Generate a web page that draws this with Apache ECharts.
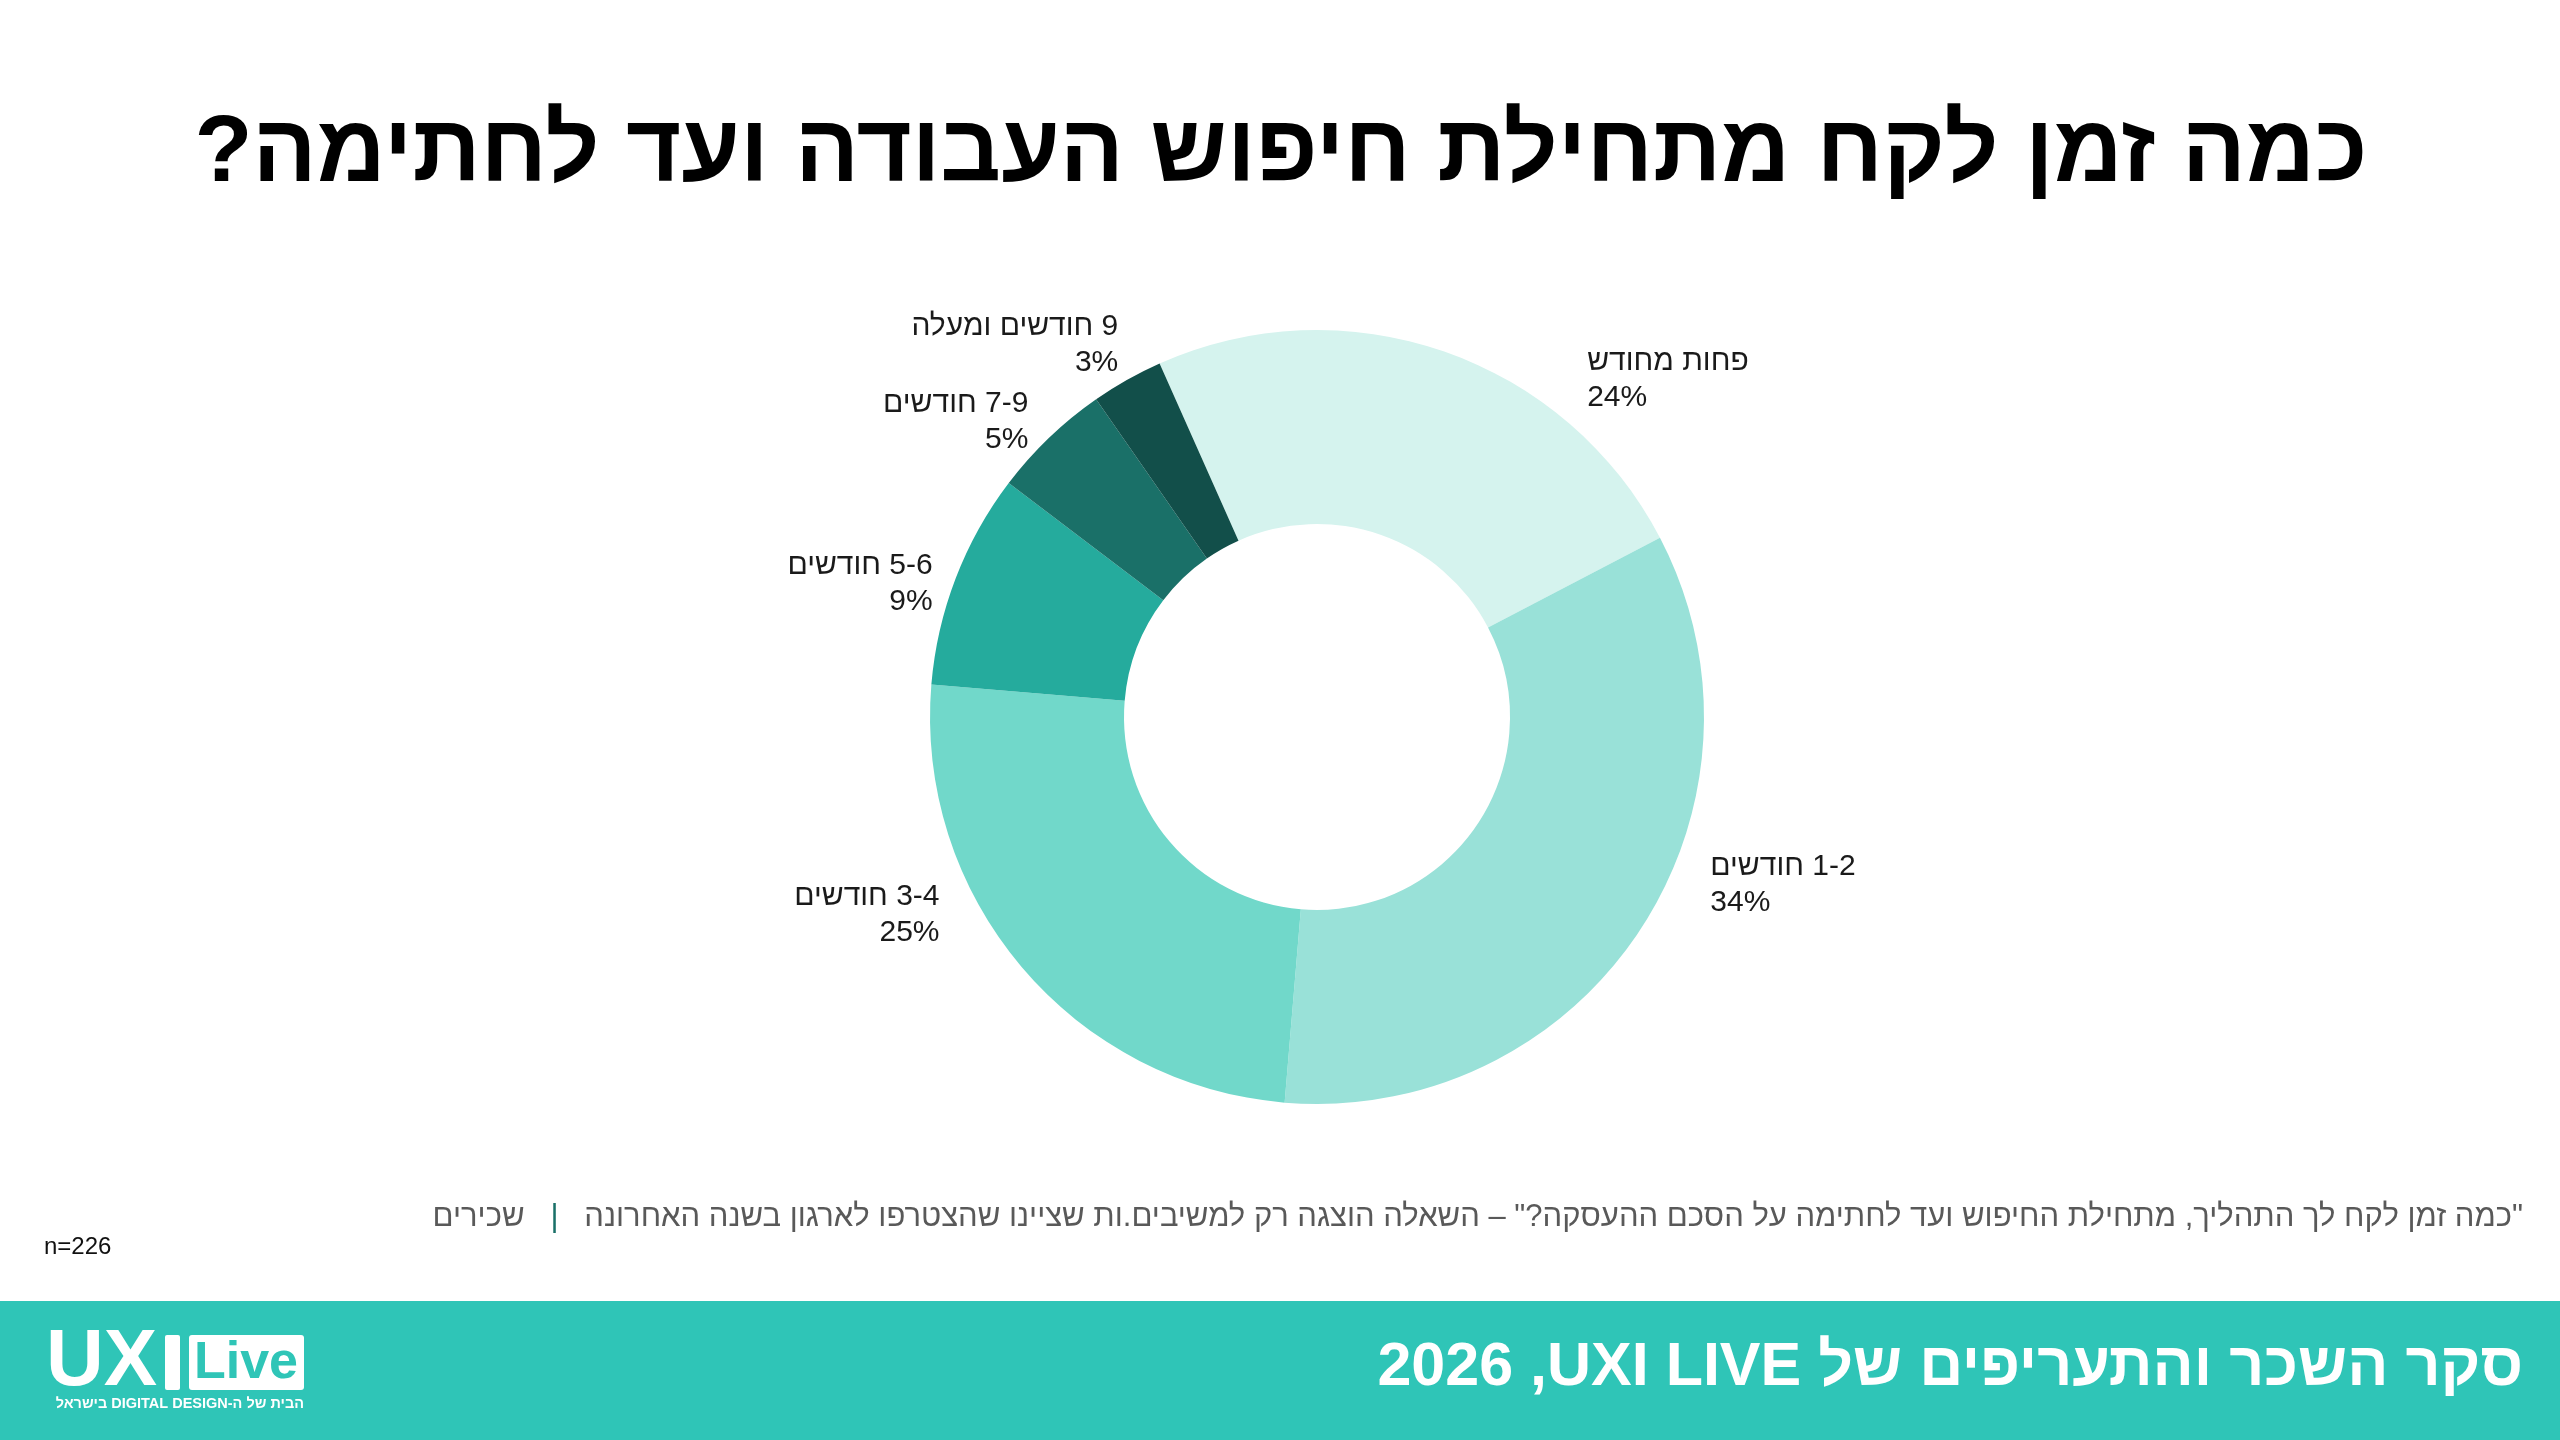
<!DOCTYPE html>
<html lang="he">
<head>
	<meta charset="UTF-8">
	<title>כמה זמן לקח</title>
	<style>
		*{margin: 0; padding: 0; box-sizing: border-box;}
		body{ background: #fff; }
		#view{
			width: 2560px;
			height: 1440px;
			direction: rtl;
		}
	</style>
</head>
<body>
	<div id="view"></div>
	<script src="https://cdn.jsdelivr.net/npm/echarts@6/dist/echarts.min.js"></script>
	<script>
	// נתונים
	var categories = ['פחות מחודש', '1-2 חודשים', '3-4 חודשים', '5-6 חודשים', '7-9 חודשים', '9 חודשים ומעלה'];
	var values = [24, 34, 25, 9, 5, 3];
	var colors = ['#d5f3ee', '#99e1d8', '#71d8ca', '#25ab9d', '#1a7068', '#124f4a'];

	var titleText = 'כמה זמן לקח מתחילת חיפוש העבודה ועד לחתימה?';
	var noteText = '"כמה זמן לקח לך התהליך, מתחילת החיפוש ועד לחתימה על הסכם ההעסקה?" – השאלה הוצגה רק למשיבים.ות שציינו שהצטרפו לארגון בשנה האחרונה';
	var noteTag = 'שכירים';
	var sampleText = 'n=226';
	var footerText = 'סקר השכר והתעריפים של UXI LIVE\u200F, 2026';

	var teal = '#2fc5b7';
	var font = "'Liberation Sans', 'DejaVu Sans', sans-serif";

	var pieData = categories.map(function (c, i) {
		return { name: c, value: values[i], itemStyle: { color: colors[i] } };
	});

	// label nudges (reference puts some labels off the mid angle)
	var nudge = { 0: [128, 57], 1: [41, -63], 2: [-54, -71], 3: [10, 16], 4: [5, 6], 5: [11, -9] };

	var option = {
		animation: false,
		backgroundColor: '#fff',
		series: [{
			type: 'pie',
			center: [1317, 717],
			radius: [193, 387],
			startAngle: 114,
			clockwise: true,
			avoidLabelOverlap: false,
			data: pieData,
			label: {
				show: true,
				position: 'outside',
				formatter: '{b}\n{c}%',
				fontFamily: font,
				fontSize: 30,
				lineHeight: 36,
				color: '#1a1a1a'
			},
			labelLine: { show: false, length: 30, length2: 0 },
			labelLayout: function (p) {
				var n = nudge[p.dataIndex];
				if (n) return { dx: n[0], dy: n[1] };
				return {};
			},
			emphasis: { disabled: true }
		}],
		graphic: [
			{
				type: 'text', x: 1281, y: 155,
				style: { text: titleText, font: '900 95px ' + font, fill: '#000', align: 'center', verticalAlign: 'middle' }
			},
			{
				type: 'text', x: 2523, y: 1217,
				style: {
					text: '{tag|' + noteTag + '}{sep|   |   }{txt|' + noteText + '}',
					align: 'right', verticalAlign: 'middle',
					rich: {
						tag: { fontFamily: font, fontSize: 31, fill: '#595959' },
						sep: { fontFamily: font, fontSize: 31, fill: '#1a7068' },
						txt: { fontFamily: font, fontSize: 31, fill: '#595959' }
					}
				}
			},
			{
				type: 'text', x: 44, y: 1247,
				style: { text: sampleText, font: '24px ' + font, fill: '#111', align: 'left', verticalAlign: 'middle' }
			},
			{
				type: 'rect', shape: { x: 0, y: 1301, width: 2560, height: 139 },
				style: { fill: teal }
			},
			{
				type: 'text', x: 2523, y: 1368,
				style: { text: footerText, font: '900 61px ' + font, fill: '#fff', align: 'right', verticalAlign: 'middle' }
			},
			// logo
			{
				type: 'text', x: 46, y: 1363,
				style: { text: 'UX', font: '900 80px ' + font, fill: '#fff', align: 'left', verticalAlign: 'middle' }
			},
			{
				type: 'rect', shape: { x: 165, y: 1335, width: 15, height: 55, r: 2 },
				style: { fill: '#fff' }
			},
			{
				type: 'rect', shape: { x: 189, y: 1335, width: 115, height: 55, r: 3 },
				style: { fill: '#fff' }
			},
			{
				type: 'text', x: 246, y: 1364,
				style: { text: 'Live', font: '700 52px ' + font, fill: teal, align: 'center', verticalAlign: 'middle' }
			},
			{
				type: 'text', x: 304, y: 1404,
				style: { text: 'הבית של ה-DIGITAL DESIGN בישראל', font: '700 14.5px ' + font, fill: '#fff', align: 'right', verticalAlign: 'middle' }
			}
		]
	};

	var myChart = echarts.init(document.getElementById('view'));
	myChart.setOption(option);
	</script>
</body>
</html>
